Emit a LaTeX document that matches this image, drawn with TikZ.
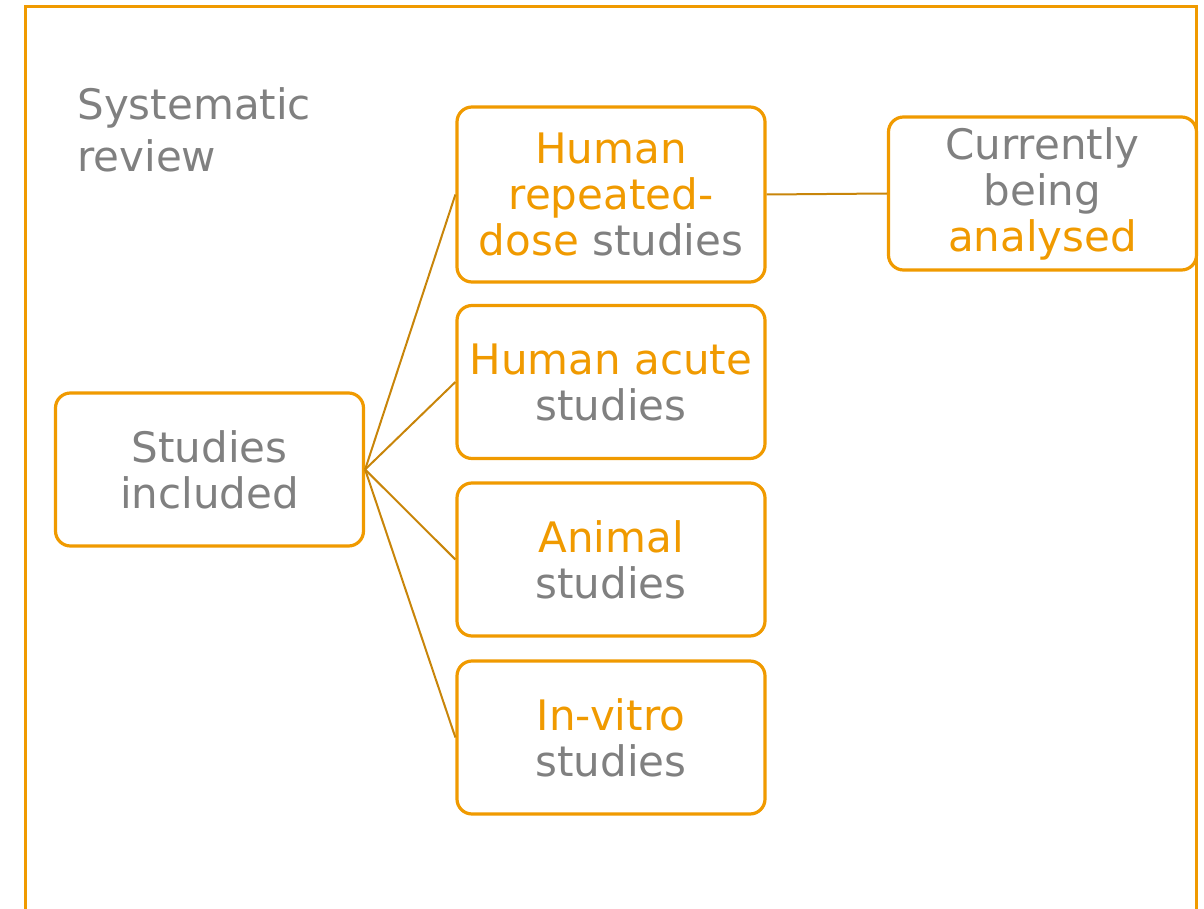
\documentclass[tikz,border=0pt]{standalone}
\usepackage{fontspec}
\setmainfont{DejaVu Sans}
\usepackage{xcolor}
\definecolor{revorange}{HTML}{F09A00}
\definecolor{linkorange}{HTML}{C8850A}
\definecolor{revgray}{HTML}{808080}
\newcommand{\orng}[1]{\textcolor{revorange}{#1}}
\tikzset{
	frame/.style={draw=revorange, line width=1.5pt},
	studybox/.style={draw=revorange, line width=1.6pt, rounded corners=7.5pt, align=center,
		minimum width=154pt, minimum height=76.5pt, inner sep=0pt},
	link/.style={draw=linkorange, line width=1pt}
}

\begin{document}
\begin{tikzpicture}[x=0.5pt,y=-0.5pt,font=\fontsize{21}{23}\selectfont,text=revgray]
	\useasboundingbox (0,0) rectangle (1204,909);
	% outer frame, open at the bottom
	\draw[frame] (25,912) -- (25,7) -- (1196,7) -- (1196,912);
	\node[anchor=north west, align=left, inner sep=0pt, font=\fontsize{21}{26}\selectfont]
		(title) at (77,87) {Systematic\\review};

	\node[studybox] (incl) at (209.5,469.5) {Studies\\included};
	\node[studybox, minimum height=87.5pt] (repeat) at (611,194.5)
		{\orng{Human}\\\orng{repeated-}\\\orng{dose} studies};
	\node[studybox] (acute) at (611,382) {\orng{Human acute}\\studies};
	\node[studybox] (animal) at (611,559.5) {\orng{Animal}\\studies};
	\node[studybox] (vitro) at (611,737.5) {\orng{In-vitro}\\studies};
	\node[studybox] (current) at (1042.5,193.5) {Currently\\being\\\orng{analysed}};

	\foreach \bx in {repeat,acute,animal,vitro}
		\draw[link] (incl.east) -- (\bx.west);
	\draw[link] (repeat.east) -- (current.west);
\end{tikzpicture}
\end{document}
